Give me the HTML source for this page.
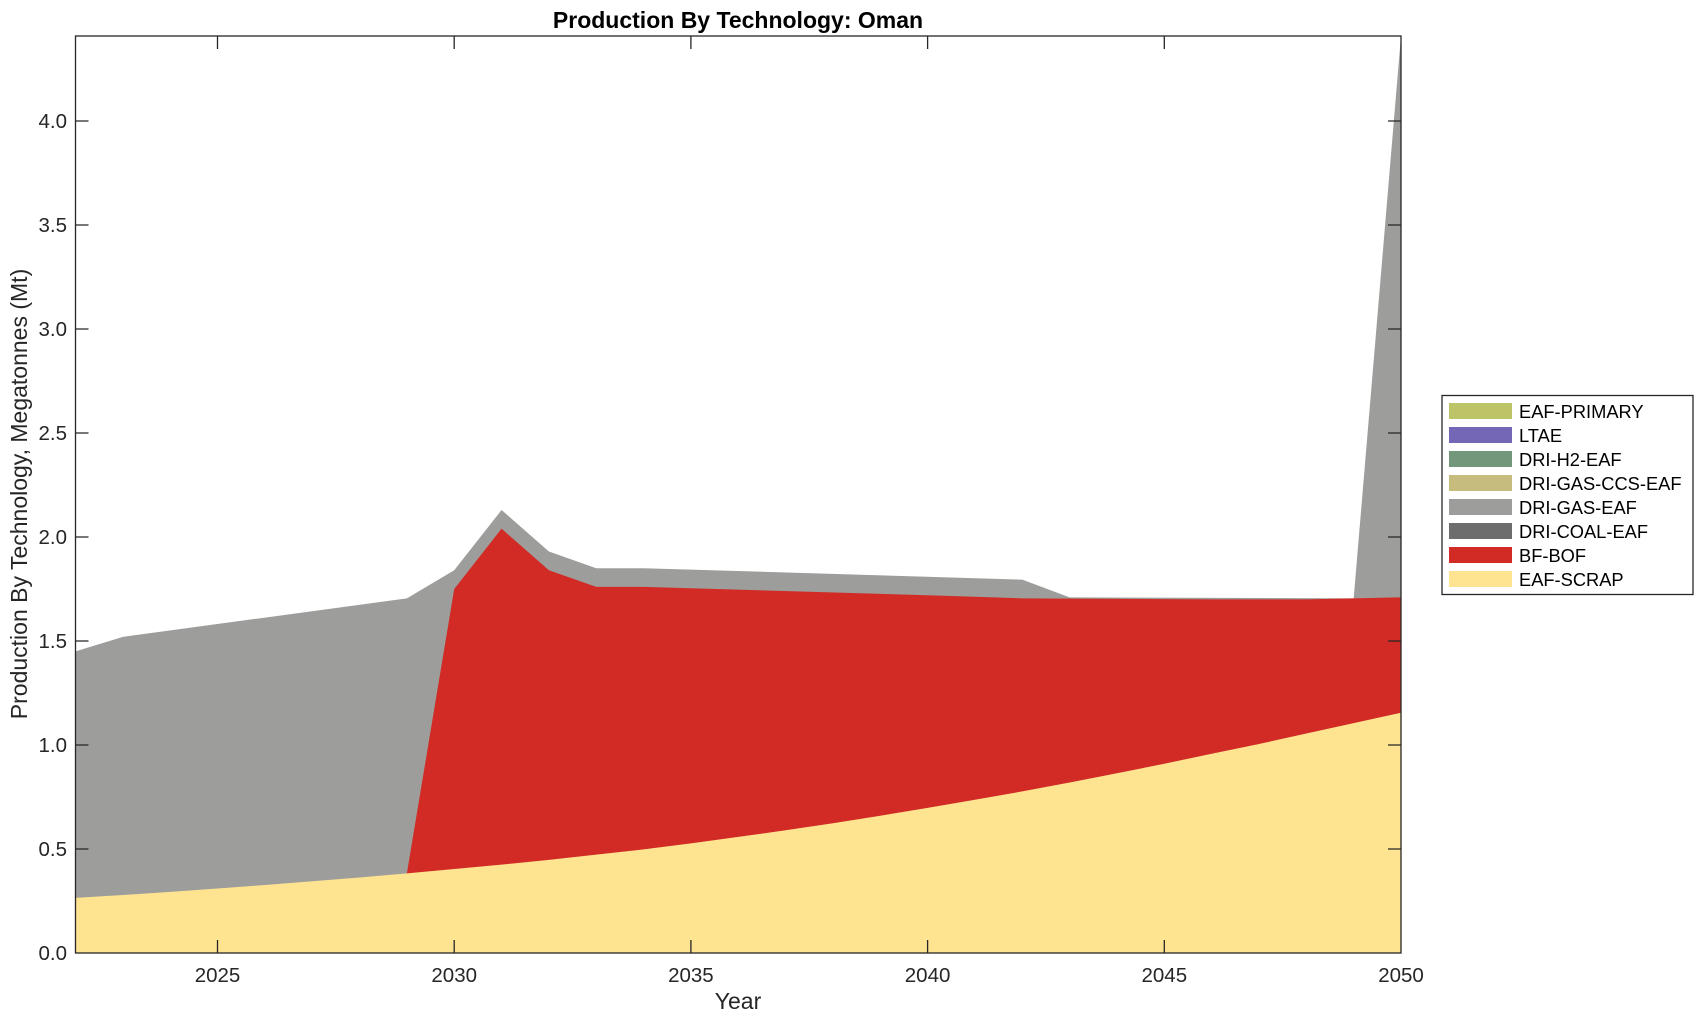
<!DOCTYPE html>
<html><head><meta charset="utf-8"><style>
html,body{margin:0;padding:0;background:#fff;}
svg{display:block;font-family:"Liberation Sans",Arial,sans-serif;}
</style></head><body>
<svg width="1703" height="1021" viewBox="0 0 1703 1021" xmlns="http://www.w3.org/2000/svg">
<rect width="1703" height="1021" fill="#fff"/>
<g transform="translate(75.5,953) scale(47.34,-208)">
<polygon fill="#9d9d9b" points="0,1.45 1,1.52 7,1.705 8,1.84 9,2.13 10,1.93 11,1.85 12,1.85 20,1.795 21,1.71 27,1.705 28,4.41 28,0 0,0"/>
<polygon fill="#d22b25" points="7,0.383 8,1.75 9,2.04 10,1.84 11,1.76 12,1.76 18,1.72 20,1.705 24,1.70 26,1.70 28,1.71 28,0 7,0"/>
<polygon fill="#fee391" points="0,0.265 1,0.279 2,0.294 3,0.31 4,0.327 5,0.345 6,0.363 7,0.383 8,0.404 9,0.425 10,0.448 11,0.473 12,0.498 13,0.527 14,0.558 15,0.59 16,0.624 17,0.66 18,0.698 19,0.737 20,0.777 21,0.82 22,0.864 23,0.91 24,0.958 25,1.005 26,1.055 27,1.105 28,1.155 28,0 0,0"/>
</g>
<g stroke="#262626" stroke-width="1.3" fill="none">
<rect x="75.5" y="36" width="1325.5" height="917"/>
<path d="M217.5,953v-13M217.5,36v13M454.2,953v-13M454.2,36v13M690.9,953v-13M690.9,36v13M927.6,953v-13M927.6,36v13M1164.3,953v-13M1164.3,36v13
M75.5,849h13M1401,849h-13M75.5,745h13M1401,745h-13M75.5,641h13M1401,641h-13M75.5,537h13M1401,537h-13M75.5,433h13M1401,433h-13M75.5,329h13M1401,329h-13M75.5,225h13M1401,225h-13M75.5,121h13M1401,121h-13"/>
</g>
<g fill="#262626" font-size="20.5" text-anchor="end">
<text x="67" y="960">0.0</text><text x="67" y="856">0.5</text><text x="67" y="752">1.0</text><text x="67" y="648">1.5</text><text x="67" y="544">2.0</text><text x="67" y="440">2.5</text><text x="67" y="336">3.0</text><text x="67" y="232">3.5</text><text x="67" y="128">4.0</text>
</g>
<g fill="#262626" font-size="20.5" text-anchor="middle">
<text x="217.5" y="982">2025</text><text x="454.2" y="982">2030</text><text x="690.9" y="982">2035</text><text x="927.6" y="982">2040</text><text x="1164.3" y="982">2045</text><text x="1401" y="982">2050</text>
<text x="738" y="1009" font-size="23">Year</text>
<text x="738" y="28" font-size="23" font-weight="bold" fill="#000">Production By Technology: Oman</text>
<text transform="translate(27,494) rotate(-90)" font-size="23">Production By Technology, Megatonnes (Mt)</text>
</g>
<rect x="1442" y="395.5" width="251" height="199" fill="#fff" stroke="#262626" stroke-width="1.3"/>
<g font-size="18.3" fill="#000">
<rect x="1449" y="403" width="63" height="16" fill="#bdc467"/><text x="1519" y="418">EAF-PRIMARY</text>
<rect x="1449" y="427" width="63" height="16" fill="#7468b6"/><text x="1519" y="442">LTAE</text>
<rect x="1449" y="451" width="63" height="16" fill="#72977a"/><text x="1519" y="466">DRI-H2-EAF</text>
<rect x="1449" y="475" width="63" height="16" fill="#c6bc7d"/><text x="1519" y="490">DRI-GAS-CCS-EAF</text>
<rect x="1449" y="499" width="63" height="16" fill="#9d9d9b"/><text x="1519" y="514">DRI-GAS-EAF</text>
<rect x="1449" y="523" width="63" height="16" fill="#6d6d6d"/><text x="1519" y="538">DRI-COAL-EAF</text>
<rect x="1449" y="547" width="63" height="16" fill="#d22b25"/><text x="1519" y="562">BF-BOF</text>
<rect x="1449" y="571" width="63" height="16" fill="#fee391"/><text x="1519" y="586">EAF-SCRAP</text>
</g>
</svg>
</body></html>
